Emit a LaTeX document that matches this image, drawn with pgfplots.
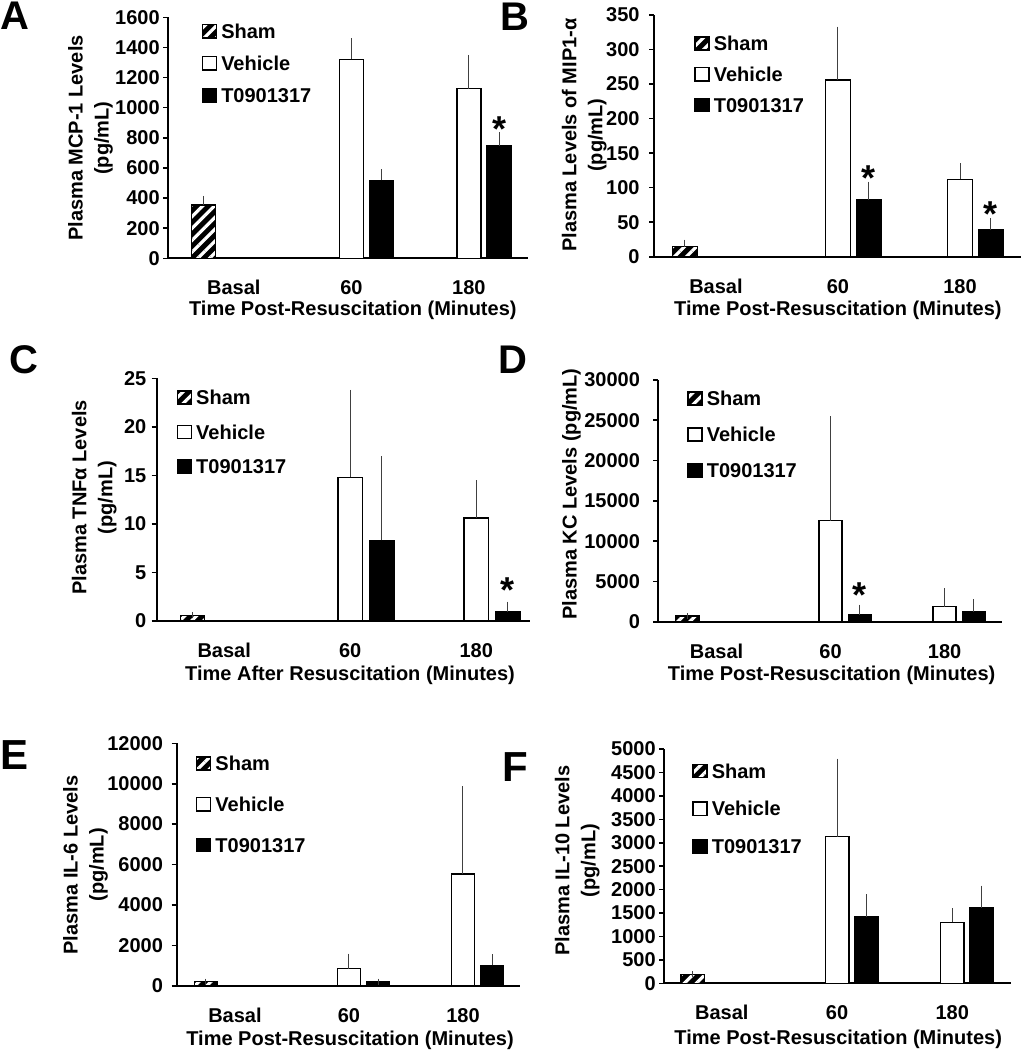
\documentclass[border=0pt]{standalone}
\usepackage{fontspec}
\setmainfont{Liberation Sans}
\usepackage{pgfplots}
\pgfplotsset{compat=1.18}
\usetikzlibrary{patterns.meta}

\newcommand\lblfont{\fontsize{10}{13}\selectfont\bfseries}

\tikzset{ast/.style={font=\fontsize{18}{18}\selectfont\bfseries, inner sep=0pt, yshift=-3.9pt}}

\pgfplotsset{
  panel/.style={
    scale only axis,
    axis x line*=bottom, axis y line*=left,
    axis line style={line width=1pt},
    ymin=0, enlargelimits=false,
    xtick={0,1,2}, xticklabels={Basal,60,180},
    xtick style={draw=none},
    ytick style={line width=0.8pt, black},
    tick align=outside,
    major tick length=2.5pt,
    scaled y ticks=false,
    /pgf/number format/assume math mode=true,
    /pgf/number format/1000 sep={},
    tick label style={font=\lblfont},
    yticklabel style={inner sep=1pt},
    xticklabel style={anchor=base, yshift=-15.75pt},
    ybar,
    bar width=0.204,
    error bars/y dir=plus, error bars/y explicit,
    error bars/error bar style={line width=0.5pt, black!75},
    error bars/error mark options={line width=0.5pt, black!75, mark size=1.5pt},
    legend cell align=left,
    legend image code/.code={\draw[##1] (0pt,-3.3pt) rectangle (7pt,3.3pt);},
    legend style={draw=none, fill=none, anchor=north west, inner sep=0pt, outer sep=0pt,
      font=\lblfont, column sep=2pt, nodes={inner sep=0pt, text height=7.2pt, text depth=0pt}},
  },
  sham/.style={fill=black, draw=black, line width=0.75pt, bar shift=0pt,
    postaction={pattern={Lines[angle=45,distance=4.2pt,line width=1.6pt]}, pattern color=white}},
  veh/.style={fill=white, draw=black, line width=0.75pt, bar shift=0pt},
  lxr/.style={fill=black, draw=black, line width=0.75pt, bar shift=0pt},
}

\begin{document}
\begin{tikzpicture}
\useasboundingbox (0pt,0pt) rectangle (511pt,-525pt);

% Panel letters
\node[font=\fontsize{20}{20}\selectfont\bfseries] at (7.5pt,-8pt) {A};
\node[font=\fontsize{20}{20}\selectfont\bfseries] at (257.5pt,-8.25pt) {B};
\node[font=\fontsize{20}{20}\selectfont\bfseries] at (12pt,-180pt) {C};
\node[font=\fontsize{20}{20}\selectfont\bfseries] at (256.5pt,-180pt) {D};
\node[font=\fontsize{21}{21}\selectfont\bfseries] at (7.5pt,-377.5pt) {E};
\node[font=\fontsize{21}{21}\selectfont\bfseries] at (257.5pt,-383.5pt) {F};

% ---------- A ----------
\begin{axis}[panel, at={(84.15pt,-129.15pt)}, anchor=south west, width=179.85pt, height=120.5pt,
  xmin=-0.558, xmax=2.503, ymax=1600, ytick={0,200,...,1600},
  yticklabel style={xshift=-0.6pt},
  ylabel={Plasma MCP-1 Levels\\(pg/mL)}, xlabel={Time Post-Resuscitation (Minutes)},
  every axis y label/.style={at={(axis description cs:-0.216,0.499)}, rotate=90, anchor=center, align=center, font=\lblfont},
  every axis x label/.style={at={(axis description cs:0.513,0)}, anchor=base, yshift=-28.8pt, font=\lblfont},
  legend style={at={(axis description cs:0.093,0.973)}, row sep=8.65pt}]
\addplot[sham] coordinates {(-0.257,355) +- (0,40)};
\addplot[veh] coordinates {(1,1320) +- (0,122) (2,1126) +- (0,204)};
\addplot[lxr] coordinates {(1.257,518) +- (0,53) (2.257,748) +- (0,69)};
\legend{Sham,Vehicle,T0901317}
\node[ast] at (axis cs:2.257,907) {*};
\end{axis}

% ---------- B ----------
\begin{axis}[panel, at={(327pt,-128.35pt)}, anchor=south west, width=183.5pt, height=120.85pt,
  xmin=-0.508, xmax=2.5, ymax=350, ytick={0,50,...,350}, bar width=0.205,
  yticklabel style={xshift=-3.5pt},
  ylabel={Plasma Levels of MIP1-α\\(pg/mL)}, xlabel={Time Post-Resuscitation (Minutes)},
  every axis y label/.style={at={(axis description cs:-0.190,0.503)}, rotate=90, anchor=center, align=center, font=\lblfont},
  every axis x label/.style={at={(axis description cs:0.501,0)}, anchor=base, yshift=-29.3pt, font=\lblfont},
  legend style={at={(axis description cs:0.110,0.913)}, row sep=8.05pt}]
\addplot[sham] coordinates {(-0.254,14.5) +- (0,6)};
\addplot[veh] coordinates {(1,256) +- (0,73) (2,112) +- (0,19)};
\addplot[lxr] coordinates {(1.254,82.5) +- (0,22) (2.254,38.6) +- (0,13)};
\legend{Sham,Vehicle,T0901317}
\node[ast] at (axis cs:1.254,125.5) {*};
\node[ast] at (axis cs:2.254,72.4) {*};
\end{axis}

% ---------- C ----------
\begin{axis}[panel, at={(78.35pt,-310.5pt)}, anchor=south west, width=186.65pt, height=121.35pt,
  xmin=-0.536, xmax=2.427, ymax=25, ytick={0,5,...,25}, bar width=0.194,
  yticklabel style={xshift=-1.5pt},
  ylabel={Plasma TNFα Levels\\(pg/mL)}, xlabel={Time After Resuscitation (Minutes)},
  every axis y label/.style={at={(axis description cs:-0.167,0.509)}, rotate=90, anchor=center, align=center, font=\lblfont},
  every axis x label/.style={at={(axis description cs:0.518,0)}, anchor=base, yshift=-29.5pt, font=\lblfont},
  legend style={at={(axis description cs:0.0536,0.951)}, row sep=9.95pt}]
\addplot[sham] coordinates {(-0.252,0.59) +- (0,0.05)};
\addplot[veh] coordinates {(1,14.8) +- (0,8.7) (2,10.6) +- (0,3.6)};
\addplot[lxr] coordinates {(1.252,8.3) +- (0,8.35) (2.252,0.95) +- (0,0.75)};
\legend{Sham,Vehicle,T0901317}
\node[ast] at (axis cs:2.252,3.95) {*};
\end{axis}

% ---------- D ----------
\begin{axis}[panel, at={(329.15pt,-310.85pt)}, anchor=south west, width=172pt, height=120.85pt,
  xmin=-0.511, xmax=2.506, ymax=30000, ytick={0,5000,...,30000},
  yticklabel style={xshift=-5.5pt},
  ylabel={Plasma KC Levels (pg/mL)}, xlabel={Time Post-Resuscitation (Minutes)},
  every axis y label/.style={at={(axis description cs:-0.252,0.528)}, rotate=90, anchor=center, align=center, font=\lblfont},
  every axis x label/.style={at={(axis description cs:0.504,0)}, anchor=base, yshift=-29.5pt, font=\lblfont},
  legend style={at={(axis description cs:0.0843,0.954)}, row sep=10.7pt}]
\addplot[sham] coordinates {(-0.257,700) +- (0,0)};
\addplot[veh] coordinates {(1,12550) +- (0,12600) (2,1860) +- (0,1950)};
\addplot[lxr] coordinates {(1.257,830) +- (0,910) (2.257,1200) +- (0,1200)};
\legend{Sham,Vehicle,T0901317}
\node[ast] at (axis cs:1.257,4270) {*};
\end{axis}

% ---------- E ----------
\begin{axis}[panel, at={(88.35pt,-492.85pt)}, anchor=south west, width=171.65pt, height=121.2pt,
  xmin=-0.511, xmax=2.5, ymax=12000, ytick={0,2000,...,12000}, bar width=0.2,
  yticklabel style={xshift=-3.2pt},
  ylabel={Plasma IL-6 Levels\\(pg/mL)}, xlabel={Time Post-Resuscitation (Minutes)},
  every axis y label/.style={at={(axis description cs:-0.266,0.498)}, rotate=90, anchor=center, align=center, font=\lblfont},
  every axis x label/.style={at={(axis description cs:0.505,0)}, anchor=base, yshift=-29.8pt, font=\lblfont},
  legend style={at={(axis description cs:0.0562,0.947)}, row sep=13pt}]
\addplot[sham] coordinates {(-0.257,200) +- (0,0)};
\addplot[veh] coordinates {(1,840) +- (0,595) (2,5530) +- (0,4190)};
\addplot[lxr] coordinates {(1.257,200) +- (0,0) (2.257,1010) +- (0,400)};
\legend{Sham,Vehicle,T0901317}
\end{axis}

% ---------- F ----------
\begin{axis}[panel, at={(332.15pt,-491.65pt)}, anchor=south west, width=173.2pt, height=117.15pt,
  xmin=-0.499, xmax=2.507, ymax=5000, ytick={0,500,...,5000},
  yticklabel style={xshift=-0.6pt},
  ylabel={Plasma IL-10 Levels\\(pg/mL)}, xlabel={Time Post-Resuscitation (Minutes)},
  every axis y label/.style={at={(axis description cs:-0.251,0.523)}, rotate=90, anchor=center, align=center, font=\lblfont},
  every axis x label/.style={at={(axis description cs:0.502,0)}, anchor=base, yshift=-30.5pt, font=\lblfont},
  legend style={at={(axis description cs:0.0808,0.938)}, row sep=11.55pt}]
\addplot[sham] coordinates {(-0.252,190) +- (0,0)};
\addplot[veh] coordinates {(1,3130) +- (0,1600) (2,1300) +- (0,235)};
\addplot[lxr] coordinates {(1.252,1410) +- (0,425) (2.252,1615) +- (0,405)};
\legend{Sham,Vehicle,T0901317}
\end{axis}
\end{tikzpicture}
\end{document}
